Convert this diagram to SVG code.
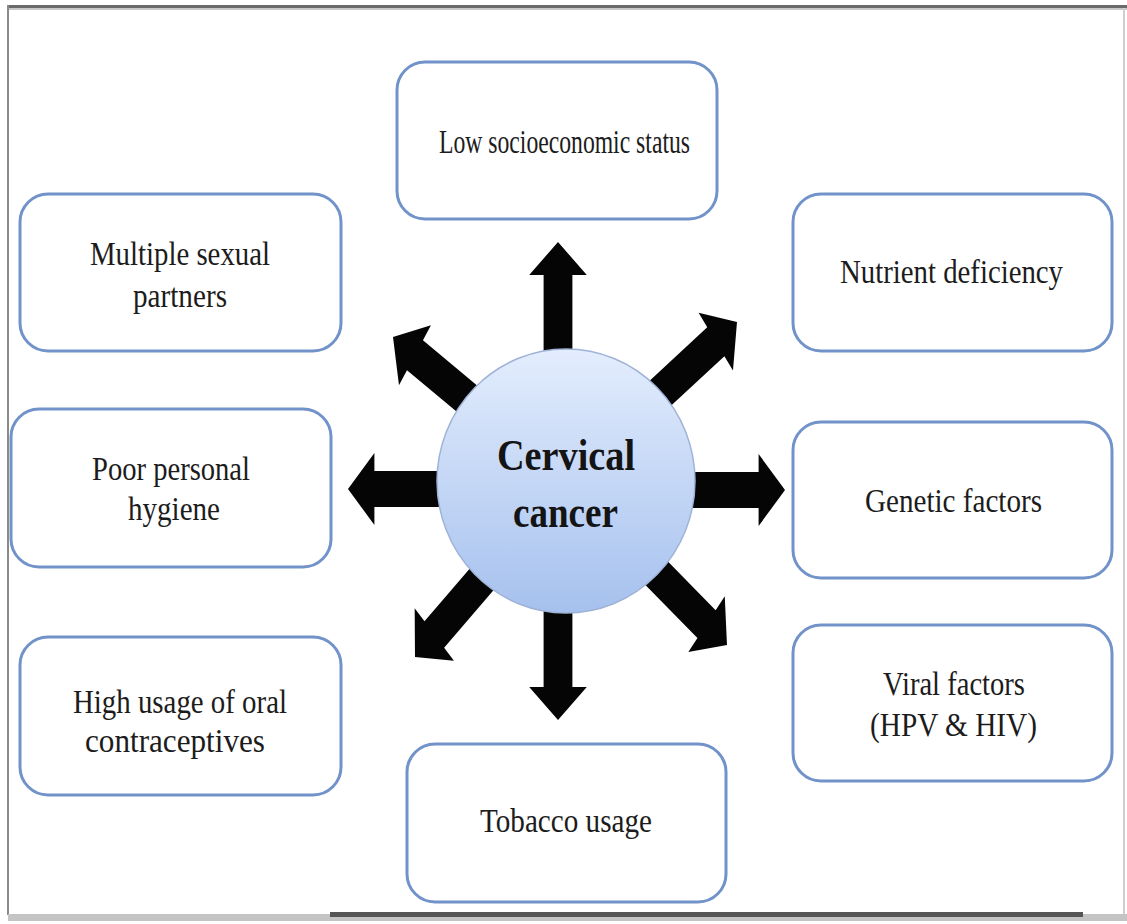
<svg xmlns="http://www.w3.org/2000/svg" width="1127" height="924" viewBox="0 0 1127 924">
<defs>
<style>
.box{fill:#fff;stroke:#7193c9;stroke-width:3}
.t{font-family:"Liberation Serif","Times New Roman",serif;font-size:34px;fill:#1c1c1c;text-anchor:middle}
.c{font-family:"Liberation Serif","Times New Roman",serif;font-size:44px;font-weight:bold;fill:#141414;text-anchor:middle}
.arr{fill:#050505}
</style>
<linearGradient id="g" x1="0" y1="0" x2="0" y2="1">
<stop offset="0" stop-color="#e3edfd"/>
<stop offset="1" stop-color="#a6c1ee"/>
</linearGradient>
<path id="a" d="M0 0 L-33 -36 L-33 -18 L-170 -18 L-170 18 L-33 18 L-33 36 Z"/>
</defs>
<rect width="1127" height="924" fill="#fff"/>
<g id="frame">
<rect x="8" y="5" width="1119" height="3" fill="#6a6a6a"/>
<rect x="8" y="8" width="1119" height="2" fill="#c8c8c8"/>
<rect x="7" y="5" width="2" height="910" fill="#8a8a8a"/>
<rect x="1123" y="8" width="2" height="908" fill="#cfcfcf"/>
<rect x="8" y="914" width="1119" height="7" fill="#c4c4c4"/>
<rect x="330" y="912" width="753" height="5" fill="#555"/>
</g>
<g id="connectors">
<use href="#a" class="arr" transform="translate(558,242) scale(0.8,1) rotate(-90)"/>
<use href="#a" class="arr" transform="translate(558,720) scale(0.8,1) rotate(90)"/>
<use href="#a" class="arr" transform="translate(348,489) scale(0.8,1) rotate(180)"/>
<use href="#a" class="arr" transform="translate(785,490) scale(0.8,1)"/>
<use href="#a" class="arr" transform="translate(393,337) scale(0.8,1) rotate(-146.3)"/>
<use href="#a" class="arr" transform="translate(737,322) scale(0.8,1) rotate(-36.6)"/>
<use href="#a" class="arr" transform="translate(415,657) scale(0.8,1) rotate(137)"/>
<use href="#a" class="arr" transform="translate(727,645) scale(0.8,1) rotate(39.2)"/>
</g>
<g id="center">
<ellipse cx="566" cy="481" rx="129" ry="132" fill="url(#g)" stroke="#9fb3d6" stroke-width="1.5"/>
<text class="c" x="566" y="470" textLength="138" lengthAdjust="spacingAndGlyphs">Cervical</text>
<text class="c" x="565.5" y="527" textLength="105" lengthAdjust="spacingAndGlyphs">cancer</text>
</g>
<g id="n-low">
<rect class="box" x="397" y="62" width="320" height="157" rx="28"/>
<text class="t" x="564.5" y="153" textLength="251" lengthAdjust="spacingAndGlyphs">Low socioeconomic status</text>
</g>
<g id="n-multiple">
<rect class="box" x="20" y="194" width="321" height="157" rx="28"/>
<text class="t" x="180" y="265" textLength="180" lengthAdjust="spacingAndGlyphs">Multiple sexual</text>
<text class="t" x="180" y="307" textLength="94" lengthAdjust="spacingAndGlyphs">partners</text>
</g>
<g id="n-nutrient">
<rect class="box" x="793" y="194" width="319" height="157" rx="28"/>
<text class="t" x="951.5" y="283" textLength="223" lengthAdjust="spacingAndGlyphs">Nutrient deficiency</text>
</g>
<g id="n-hygiene">
<rect class="box" x="11" y="409" width="320" height="158" rx="28"/>
<text class="t" x="171" y="480" textLength="158" lengthAdjust="spacingAndGlyphs">Poor personal</text>
<text class="t" x="174" y="520" textLength="92" lengthAdjust="spacingAndGlyphs">hygiene</text>
</g>
<g id="n-genetic">
<rect class="box" x="793" y="422" width="319" height="156" rx="28"/>
<text class="t" x="953.5" y="512" textLength="177" lengthAdjust="spacingAndGlyphs">Genetic factors</text>
</g>
<g id="n-oral">
<rect class="box" x="20" y="637" width="321" height="158" rx="28"/>
<text class="t" x="180" y="713" textLength="214" lengthAdjust="spacingAndGlyphs">High usage of oral</text>
<text class="t" x="175" y="752" textLength="180" lengthAdjust="spacingAndGlyphs">contraceptives</text>
</g>
<g id="n-viral">
<rect class="box" x="793" y="625" width="319" height="156" rx="28"/>
<text class="t" x="954" y="695" textLength="142" lengthAdjust="spacingAndGlyphs">Viral factors</text>
<text class="t" x="953.5" y="736" textLength="167" lengthAdjust="spacingAndGlyphs">(HPV &amp; HIV)</text>
</g>
<g id="n-tobacco">
<rect class="box" x="407" y="744" width="319" height="158" rx="28"/>
<text class="t" x="566" y="832" textLength="172" lengthAdjust="spacingAndGlyphs">Tobacco usage</text>
</g>
</svg>
